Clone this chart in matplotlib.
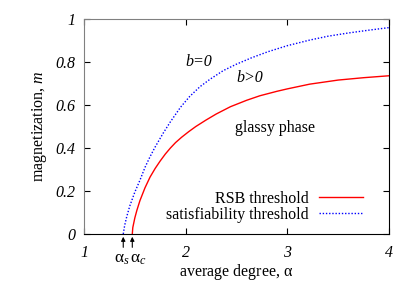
import matplotlib.pyplot as plt
import numpy as np

plt.rcParams['font.family'] = ['Liberation Serif', 'DejaVu Serif']
plt.rcParams['mathtext.fontset'] = 'custom'
plt.rcParams['mathtext.rm'] = 'Liberation Serif'
plt.rcParams['mathtext.it'] = 'Liberation Serif:italic'

# RSB threshold (red, solid)
rsb_alpha = [1.475, 1.48, 1.50, 1.52, 1.55, 1.60, 1.65, 1.70, 1.75, 1.80, 1.85, 1.90, 1.96,
             2.03, 2.10, 2.20, 2.30, 2.44, 2.60, 2.73, 2.90, 3.00, 3.22, 3.50, 3.75, 4.00]
rsb_m = [0.0, 0.03, 0.075, 0.11, 0.155, 0.215, 0.265, 0.305, 0.34, 0.372, 0.40, 0.425, 0.45,
         0.476, 0.50, 0.53, 0.558, 0.592, 0.622, 0.643, 0.664, 0.675, 0.697, 0.716, 0.727, 0.736]

# satisfiability threshold (blue, dotted)
sat_alpha = [1.386, 1.40, 1.42, 1.45, 1.50, 1.55, 1.60, 1.65, 1.70, 1.78, 1.85, 1.95, 2.04,
             2.14, 2.24, 2.37, 2.50, 2.65, 2.81, 3.00, 3.22, 3.40, 3.60, 3.80, 4.00]
sat_m = [0.0, 0.04, 0.08, 0.13, 0.195, 0.25, 0.31, 0.36, 0.405, 0.47, 0.522, 0.59, 0.64,
         0.685, 0.72, 0.76, 0.79, 0.82, 0.848, 0.876, 0.902, 0.92, 0.935, 0.948, 0.96]

alpha_s = 1.386
alpha_c = 1.475

xticks = [1, 2, 3, 4]
yticks = [0, 0.2, 0.4, 0.6, 0.8, 1]
ytick_labels = ['0', '0.2', '0.4', '0.6', '0.8', '1']

fs = 11.5

fig = plt.figure(figsize=(4.07, 2.85), dpi=100)
ax = fig.add_axes([0.2064, 0.179, 0.7494, 0.7543])

ax.plot(rsb_alpha, rsb_m, color='#ff0000', lw=1.0, label='RSB threshold')
ax.plot(sat_alpha, sat_m, color='#0000ff', lw=1.0, ls=(0, (1, 1.3)), label='satisfiability threshold')

ax.set_xlim(1, 4)
ax.set_ylim(0, 1)
ax.set_xticks(xticks)
ax.set_xticklabels([str(t) for t in xticks], fontstyle='italic', fontsize=fs)
ax.set_yticks(yticks)
ax.set_yticklabels(ytick_labels, fontstyle='italic', fontsize=fs)
ax.tick_params(direction='in', length=4, width=0.8, top=True, right=True, pad=6)
ax.tick_params(axis='x', pad=8)

for side in ['top', 'left']:
    ax.spines[side].set_color('#808080')
for side in ['bottom', 'right']:
    ax.spines[side].set_color('black')

ax.set_xlabel(r'average degree, $\mathrm{\alpha}$', fontsize=fs, labelpad=1)
ax.set_ylabel(r'magnetization, $\mathit{m}$', fontsize=fs, labelpad=5)

ax.text(2.13, 0.80, 'b=0', fontstyle='italic', fontsize=fs, ha='center', va='center')
ax.text(2.63, 0.725, 'b>0', fontstyle='italic', fontsize=fs, ha='center', va='center')
ax.text(2.88, 0.495, 'glassy phase', fontsize=fs, ha='center', va='center')

leg = ax.legend(loc='lower right', bbox_to_anchor=(0.95, 0.0), frameon=False, fontsize=fs,
                markerfirst=False, handlelength=2.75, handletextpad=0.65, labelspacing=0.0,
                borderpad=0.2)
for t in leg.get_texts():
    t.set_ha('right')

# arrows marking alpha_s and alpha_c below the axis
for a in [alpha_s, alpha_c]:
    ax.annotate('', xy=(a, 0), xycoords=('data', 'axes fraction'),
                xytext=(a, -0.075), textcoords=('data', 'axes fraction'),
                arrowprops=dict(arrowstyle='-|>', color='black', lw=0.8, mutation_scale=6),
                annotation_clip=False)
ax.text(alpha_s - 0.01, -0.08, r'$\mathrm{\alpha}_{\mathit{s}}$', transform=ax.get_xaxis_transform(),
        ha='center', va='top', fontsize=12.5)
ax.text(alpha_c + 0.06, -0.08, r'$\mathrm{\alpha}_{\mathit{c}}$', transform=ax.get_xaxis_transform(),
        ha='center', va='top', fontsize=12.5)

fig.savefig('out.png', dpi=100)
